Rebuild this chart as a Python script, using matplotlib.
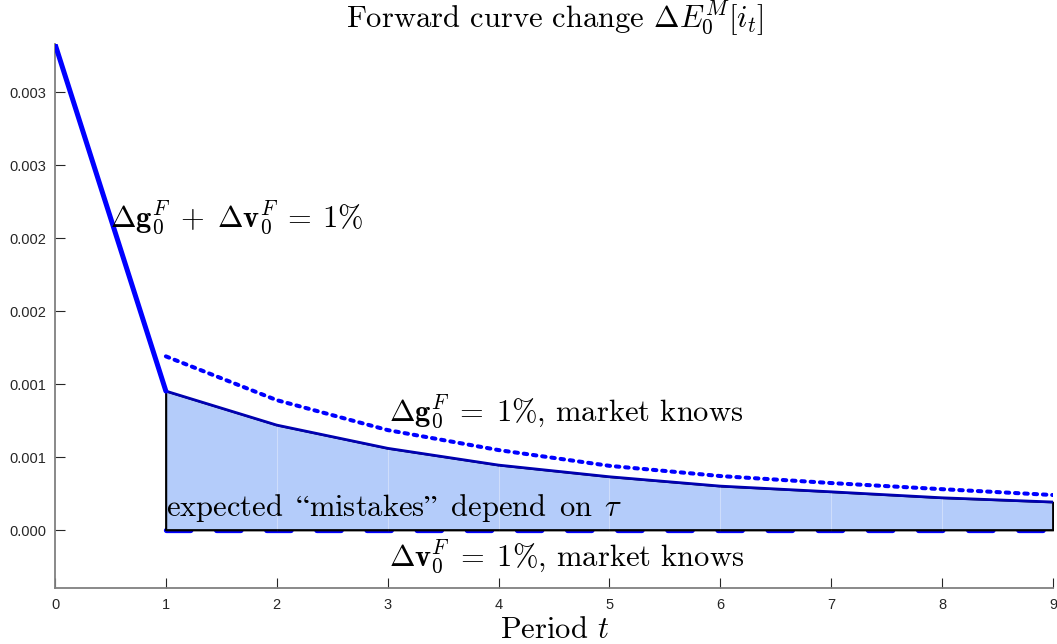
import matplotlib
matplotlib.use("Agg")
import matplotlib.pyplot as plt
import numpy as np

# ---- data ----
t_total = [0, 1]
total_resp = [0.00333, 0.000952]

periods = [1, 2, 3, 4, 5, 6, 7, 8, 9]
g_market_knows = [0.00119, 0.00089, 0.000685, 0.000548, 0.00044, 0.00037, 0.000322, 0.00028, 0.00024]
mistakes = [0.000952, 0.000719, 0.00056, 0.000445, 0.000365, 0.000301, 0.000262, 0.000221, 0.000192]
v_market_knows = [0, 0, 0, 0, 0, 0, 0, 0, 0]

xticks = [0, 1, 2, 3, 4, 5, 6, 7, 8, 9]
yticks = [0.0, 0.0005, 0.001, 0.0015, 0.002, 0.0025, 0.003]
ytick_labels = ["0.000", "0.001", "0.001", "0.002", "0.002", "0.003", "0.003"]

title = r"Forward curve change $\Delta E_0^M[i_t]$"
xlabel = r"Period $t$"
lab_total = r"$\Delta\mathbf{g}_0^F \;+\; \Delta\mathbf{v}_0^F \:=\: 1\%$"
lab_g = r"$\Delta\mathbf{g}_0^F \;=\; 1\%$, market knows"
lab_v = r"$\Delta\mathbf{v}_0^F \;=\; 1\%$, market knows"
lab_mist = "$\\mathrm{expected\\ \\,\u201cmistakes\u201d\\ \\,depend\\ \\,on\\ \\,}\\tau$"

plt.rcParams['mathtext.fontset'] = 'cm'
serif = ['cmr10', 'DejaVu Serif']

fig = plt.figure(figsize=(10.57, 6.44), dpi=100)
ax = fig.add_axes([55/1057, 56/644, (1053-55)/1057, (588-44)/644])

# zero dashed line (below fill)
ax.plot(periods, v_market_knows, color='#0000ff', lw=3.8, dashes=(4.6, 4.9),
        solid_capstyle='round', dash_capstyle='round', zorder=2)
# fill
ax.fill_between(periods, 0, mistakes, facecolor='#b4ccfa', edgecolor='black', lw=1.2, zorder=3)
for p, m in zip(periods[1:-1], mistakes[1:-1]):
    ax.plot([p, p], [0, m], color='white', lw=0.8, alpha=0.35, zorder=3.5)
ax.plot([periods[0], periods[0]], [0, mistakes[0]], color='black', lw=1.2, zorder=3.6)
ax.plot([periods[-1], periods[-1]], [0, mistakes[-1]], color='black', lw=1.2, zorder=3.6)
ax.plot([periods[0], periods[-1]], [0, 0], color='black', lw=1.2, zorder=3.6)
# mistakes line
ax.plot(periods, mistakes, color='#0000b0', lw=2.0, zorder=4)
# g market knows dashed
ax.plot(periods, g_market_knows, color='#0000ff', lw=2.9, dashes=(0.86, 1.45),
        dash_capstyle='round', zorder=4)
# total response
ax.plot(t_total, total_resp, color='#0000ff', lw=3.6, solid_capstyle='round', zorder=5)

ax.set_xlim(0, 9)
ax.set_ylim(-0.000397, 0.00333)
ax.set_xticks(xticks)
ax.set_yticks(yticks)
ax.set_yticklabels(ytick_labels)
for lab in ax.get_xticklabels() + ax.get_yticklabels():
    lab.set_family(['Liberation Sans', 'DejaVu Sans'])
    lab.set_fontsize(10.5)
    lab.set_color('#262626')
ax.tick_params(axis='both', direction='in', length=7, width=0.8, color='#262626')
ax.tick_params(axis='x', pad=7)
ax.tick_params(axis='y', pad=6)
for s in ['top', 'right']:
    ax.spines[s].set_visible(False)
for s in ['left', 'bottom']:
    ax.spines[s].set_color('#808080')
    ax.spines[s].set_linewidth(1.3)

fs = 22
ax.text(0.5, 0.00214, lab_total, fontsize=fs, family=serif, va='center', ha='left', zorder=6)
ax.text(3.01, 0.000808, lab_g, fontsize=fs, family=serif, va='center', ha='left', zorder=6)
ax.text(1.0, 0.00015, lab_mist, fontsize=fs, family=serif, va='center', ha='left', zorder=6)
ax.text(3.01, -0.000185, lab_v, fontsize=fs, family=serif, va='center', ha='left', zorder=6)

fig.text(555/1057, 1 - 18/644, title, fontsize=fs, family=serif, ha='center', va='center')
fig.text(555/1057, 1 - 630/644, xlabel, fontsize=fs, family=serif, ha='center', va='center')

fig.savefig('out.png', dpi=100)
